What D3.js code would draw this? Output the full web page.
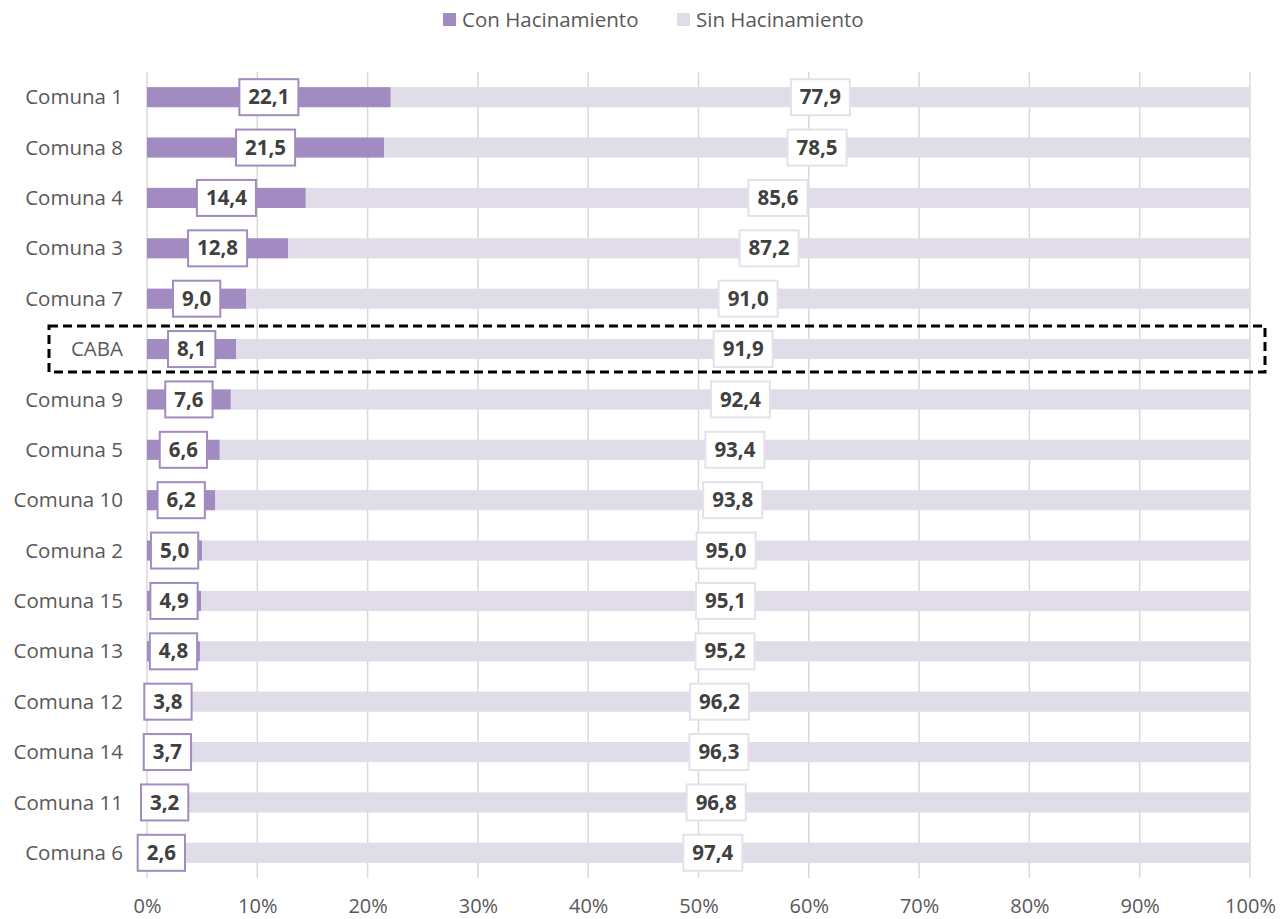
<!DOCTYPE html>
<html>
<head>
<meta charset="utf-8">
<script src="https://cdn.jsdelivr.net/npm/d3@7"></script>
<style>
  body { margin: 0; background: #fff; }
  svg { font-family: "Open Sans", sans-serif; }
</style>
</head>
<body>
<svg id="chart" width="1281" height="919"></svg>
<script>
// datos
var categorias = ["Comuna 1", "Comuna 8", "Comuna 4", "Comuna 3", "Comuna 7", "CABA", "Comuna 9", "Comuna 5",
  "Comuna 10", "Comuna 2", "Comuna 15", "Comuna 13", "Comuna 12", "Comuna 14", "Comuna 11", "Comuna 6"];
var conHacinamiento = [22.1, 21.5, 14.4, 12.8, 9.0, 8.1, 7.6, 6.6, 6.2, 5.0, 4.9, 4.8, 3.8, 3.7, 3.2, 2.6];
var sinHacinamiento = [77.9, 78.5, 85.6, 87.2, 91.0, 91.9, 92.4, 93.4, 93.8, 95.0, 95.1, 95.2, 96.2, 96.3, 96.8, 97.4];
var ticks = [0, 10, 20, 30, 40, 50, 60, 70, 80, 90, 100];
var series = ["Con Hacinamiento", "Sin Hacinamiento"];
var colores = ["#a28bc1", "#e0dde9"];
var bordes = ["#a28bc1", "#e4e1ec"];

var svg = d3.select("#chart");
var fmt = function(v) { return v.toFixed(1).replace(".", ","); };
var fs = "20.5px";

var x = d3.scaleLinear().domain([0, 100]).range([147, 1250]);
var y = d3.scaleBand().domain(categorias).range([72, 878]).paddingInner(0.6).paddingOuter(0.3);

// grilla
svg.append("g").selectAll("line").data(ticks).enter().append("line")
  .attr("x1", function(d) { return x(d); }).attr("x2", function(d) { return x(d); })
  .attr("y1", 72).attr("y2", 878)
  .attr("stroke", "#d9d9d9").attr("stroke-width", 1.5);

// eje x
var xAxis = svg.append("g").attr("transform", "translate(0,878)")
  .call(d3.axisBottom(x).tickValues(ticks).tickSize(0).tickPadding(21).tickFormat(function(d) { return d + "%"; }));
xAxis.select(".domain").remove();
xAxis.selectAll("text").attr("fill", "#595959").style("font-size", "20px").style("font-family", "'Open Sans', sans-serif");

// etiquetas categorias
svg.append("g").selectAll("text").data(categorias).enter().append("text")
  .attr("x", 123).attr("y", function(d) { return y(d) + y.bandwidth() / 2; })
  .attr("dy", "0.35em").attr("text-anchor", "end")
  .attr("fill", "#595959").style("font-size", fs)
  .text(function(d) { return d; });

var filas = categorias.map(function(c, i) { return { cat: c, con: conHacinamiento[i], sin: sinHacinamiento[i] }; });

// barras
var barras = svg.append("g");
barras.selectAll(".con").data(filas).enter().append("rect")
  .attr("x", x(0)).attr("y", function(d) { return y(d.cat); })
  .attr("width", function(d) { return x(d.con) - x(0); })
  .attr("height", y.bandwidth()).attr("fill", colores[0]);
barras.selectAll(".sin").data(filas).enter().append("rect")
  .attr("x", function(d) { return x(d.con); }).attr("y", function(d) { return y(d.cat); })
  .attr("width", function(d) { return x(d.con + d.sin) - x(d.con); })
  .attr("height", y.bandwidth()).attr("fill", colores[1]);

// etiquetas de valores
function etiqueta(g, cx, cy, txt, borde) {
  var t = g.append("text").attr("x", cx).attr("y", cy).attr("dy", "0.35em")
    .attr("text-anchor", "middle").attr("fill", "#404040")
    .style("font-size", fs).style("font-weight", "bold").text(txt);
  var w = t.node().getComputedTextLength() + 18;
  g.insert("rect", function() { return t.node(); })
    .attr("x", cx - w / 2).attr("y", cy - 18).attr("width", w).attr("height", 36)
    .attr("fill", "#fff").attr("stroke", borde).attr("stroke-width", 2);
}
var labels = svg.append("g");
filas.forEach(function(d) {
  var cy = y(d.cat) + y.bandwidth() / 2;
  etiqueta(labels.append("g"), x(d.con / 2), cy, fmt(d.con), bordes[0]);
  etiqueta(labels.append("g"), x(d.con + d.sin / 2), cy, fmt(d.sin), bordes[1]);
});

// recuadro CABA
var yc = y("CABA") + y.bandwidth() / 2;
svg.append("rect").attr("x", 49).attr("y", yc - 23).attr("width", 1216).attr("height", 46)
  .attr("fill", "none").attr("stroke", "#000").attr("stroke-width", 3)
  .attr("stroke-dasharray", "9,5");

// leyenda
var leg = svg.append("g");
var legX = [443, 677];
series.forEach(function(s, i) {
  leg.append("rect").attr("x", legX[i]).attr("y", 13).attr("width", 13).attr("height", 13).attr("fill", colores[i]);
  leg.append("text").attr("x", legX[i] + 19).attr("y", 20).attr("dy", "0.35em")
    .attr("fill", "#595959").style("font-size", fs).text(s);
});
</script>
</body>
</html>
